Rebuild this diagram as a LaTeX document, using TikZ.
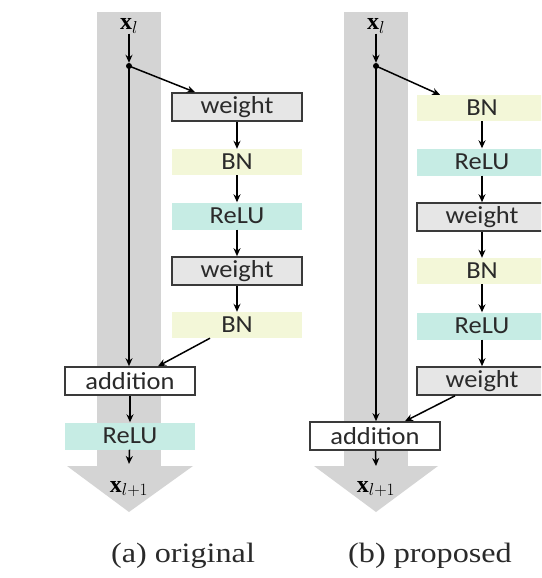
\documentclass[tikz,border=0pt]{standalone}
\usepackage{fontspec}
\setmainfont{Liberation Serif}
\newfontfamily\boxfont[FakeStretch=1.08]{Carlito}
\newfontfamily\capfont[FakeStretch=1.15]{Liberation Serif}
\usetikzlibrary{arrows.meta}
\definecolor{colgray}{HTML}{D4D4D4}
\definecolor{bnyellow}{HTML}{F3F7D8}
\definecolor{relucyan}{HTML}{C6ECE4}
\definecolor{wfill}{HTML}{E6E6E6}
\definecolor{edge}{HTML}{3A3A3A}
\definecolor{txt}{HTML}{2A2A2A}
\tikzset{
  lbl/.style={font=\boxfont\fontsize{24.5}{26}\selectfont, text=txt, inner sep=0pt, minimum width=130pt},
  wbox/.style={lbl, draw=edge, line width=1.6pt, fill=wfill, minimum height=28pt},
  addbox/.style={lbl, draw=edge, line width=1.6pt, fill=white, minimum height=28pt},
  bnband/.style={lbl, fill=bnyellow, minimum height=26pt},
  reluband/.style={lbl, fill=relucyan, minimum height=27pt},
  xlab/.style={inner sep=0pt, font=\fontsize{24}{26}\selectfont},
  conn/.style={line width=1.5pt, -{Stealth[length=8pt,width=7pt]}},
  dotnode/.style={circle, fill=black, inner sep=0pt, minimum size=6pt},
  caption/.style={font=\capfont\fontsize{28}{30}\selectfont, text=txt, inner sep=0pt}
}
\begin{document}
\begin{tikzpicture}[x=1pt,y=-1pt]
\useasboundingbox (0,0) rectangle (541,578);
\clip (0,0) rectangle (541,578);
% ----- (a) original -----
\fill[colgray] (97,12) rectangle (161,466);
\fill[colgray] (67,466) -- (193,466) -- (129,512) -- cycle;
\node[xlab] (xla) at (129,26) {$\mathbf{x}_{l}$};
\node[dotnode] (dota) at (129,66) {};
\node[wbox] (wa1) at (237,107) {weight};
\node[bnband] (bna1) at (237,162) {BN};
\node[reluband] (relua1) at (237,216) {ReLU};
\node[wbox] (wa2) at (237,271) {weight};
\node[bnband] (bna2) at (237,325) {BN};
\node[addbox] (adda) at (130,381) {addition};
\node[reluband] (relua2) at (130,436) {ReLU};
\node[xlab] (xl1a) at (129,489) {$\mathbf{x}_{l+1}$};
\coordinate (enda) at (129,464);
\draw[conn] (xla) -- (dota);
\draw[conn, shorten <=-2pt] (dota.center) -- ([xshift=-42pt]wa1.north);
\draw[conn] (wa1) -- (bna1);
\draw[conn] (bna1) -- (relua1);
\draw[conn] (relua1) -- (wa2);
\draw[conn] (wa2) -- (bna2);
\draw[conn] ([xshift=-27pt]bna2.south) -- ([xshift=28pt]adda.north);
\draw[conn] (dota.center) -- (dota.center |- adda.north);
\draw[conn] (adda) -- (relua2);
\draw[conn] (relua2) -- (enda);
\node[caption] (capa) at (183,556) {(a) original};
% ----- (b) proposed -----
\fill[colgray] (344,12) rectangle (408,466);
\fill[colgray] (314,466) -- (438,466) -- (376,512) -- cycle;
\node[xlab] (xlb) at (376,26) {$\mathbf{x}_{l}$};
\node[dotnode] (dotb) at (376,66) {};
\node[bnband] (bnb1) at (482,108) {BN};
\node[reluband] (relub1) at (482,162) {ReLU};
\node[wbox] (wb1) at (482,217) {weight};
\node[bnband] (bnb2) at (482,271) {BN};
\node[reluband] (relub2) at (482,326) {ReLU};
\node[wbox] (wb2) at (482,381) {weight};
\node[addbox] (addb) at (375,436) {addition};
\node[xlab] (xl1b) at (376,489) {$\mathbf{x}_{l+1}$};
\coordinate (endb) at (376,466);
\draw[conn] (xlb) -- (dotb);
\draw[conn] (dotb.center) -- ([xshift=-42pt]bnb1.north);
\draw[conn] (bnb1) -- (relub1);
\draw[conn] (relub1) -- (wb1);
\draw[conn] (wb1) -- (bnb2);
\draw[conn] (bnb2) -- (relub2);
\draw[conn] (relub2) -- (wb2);
\draw[conn] ([xshift=-27pt]wb2.south) -- ([xshift=30pt]addb.north);
\draw[conn] (dotb.center) -- (dotb.center |- addb.north);
\draw[conn] (addb) -- (endb);
\node[caption] (capb) at (430,556) {(b) proposed};
\end{tikzpicture}
\end{document}
